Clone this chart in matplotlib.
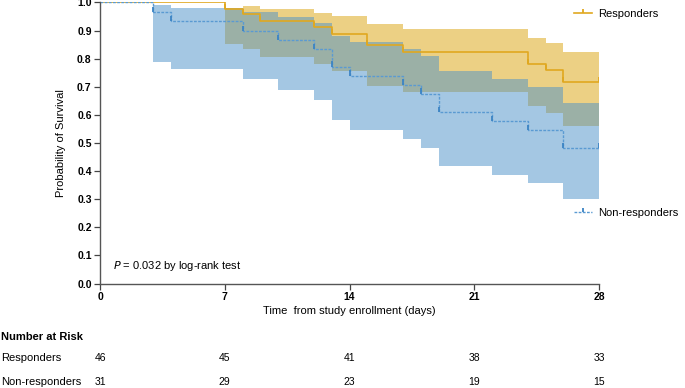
import matplotlib
matplotlib.use("Agg")
import matplotlib.pyplot as plt
from matplotlib.lines import Line2D
from matplotlib.transforms import blended_transform_factory

plt.rcParams['font.family'] = ['Liberation Sans', 'DejaVu Sans']

# Kaplan-Meier estimates
resp_t = [0, 7, 8, 9, 12, 13, 15, 17, 24, 25, 26, 28]
resp_s = [1.0, 0.977, 0.958, 0.934, 0.911, 0.889, 0.847, 0.824, 0.782, 0.760, 0.718, 0.718]
resp_lo = [1.0, 0.852, 0.833, 0.807, 0.781, 0.756, 0.704, 0.680, 0.632, 0.608, 0.560, 0.560]
resp_hi = [1.0, 0.979, 0.9875, 0.976, 0.962, 0.952, 0.922, 0.906, 0.873, 0.857, 0.823, 0.823]

non_t = [0, 3, 4, 8, 10, 12, 13, 14, 17, 18, 19, 22, 24, 26, 28]
non_s = [1.0, 0.966, 0.933, 0.900, 0.868, 0.836, 0.772, 0.740, 0.708, 0.676, 0.609, 0.578, 0.546, 0.483, 0.483]
non_lo = [1.0, 0.789, 0.762, 0.727, 0.689, 0.653, 0.582, 0.547, 0.513, 0.481, 0.418, 0.386, 0.359, 0.300, 0.300]
non_hi = [1.0, 0.991, 0.979, 0.965, 0.947, 0.926, 0.882, 0.860, 0.833, 0.810, 0.756, 0.728, 0.700, 0.643, 0.643]

# number at risk table
risk_days = [0, 7, 14, 21, 28]
risk_resp = [46, 45, 41, 38, 33]
risk_non = [31, 29, 23, 19, 15]

gold = '#DBA30B'
gold_line = '#E0A820'
blue = '#4B91C9'
blue_line = '#5A9AD2'
blue_tick = '#3C84C4'

fig = plt.figure(figsize=(6.85, 3.88), dpi=100)
ax = fig.add_axes([0.146, 0.2693, 0.7285, 0.7243])

# confidence bands
ax.fill_between(resp_t, resp_lo, resp_hi, step='post', color=gold, alpha=0.5, lw=0)
ax.fill_between(non_t, non_lo, non_hi, step='post', color=blue, alpha=0.5, lw=0)

# survival curves
ax.step(resp_t, resp_s, where='post', color=gold_line, lw=1.2)
ax.step(non_t, non_s, where='post', color=blue_line, lw=1.0, ls=(0, (2, 1)))

# censor ticks
ax.vlines(resp_t[1:], resp_s[1:], [s + 0.018 for s in resp_s[1:]], color=gold_line, lw=1.3)
ax.vlines(non_t[1:], non_s[1:], [s + 0.018 for s in non_s[1:]], color=blue_tick, lw=1.3)

ax.set_xlim(0, 28)
ax.set_ylim(0, 1.0)
ax.set_xticks(risk_days)
ax.set_yticks([i / 10 for i in range(11)])
ax.set_yticklabels([f'{i / 10:.1f}' for i in range(11)])
for lab in ax.get_xticklabels() + ax.get_yticklabels():
    lab.set_fontweight('bold')
ax.tick_params(labelsize=7.5, length=4, width=0.9, color='#444444', pad=2)
for side in ['top', 'right']:
    ax.spines[side].set_visible(False)
for side in ['left', 'bottom']:
    ax.spines[side].set_color('#555555')
    ax.spines[side].set_linewidth(1.0)

ax.set_xlabel('Time  from study enrollment (days)', fontsize=8, labelpad=3)
ax.set_ylabel('Probability of Survival', fontsize=8, labelpad=8)

ax.text(0.026, 0.062, r'$\it{P}$ = 0.032 by log-rank test', transform=ax.transAxes,
        fontsize=8, va='center', ha='left')

# legends placed separately as in the figure, tick pointing up from the line
up_tick = [(0, 0), (0, 1)]
h_resp = Line2D([], [], color=gold_line, lw=1.2, marker=up_tick, markersize=6, markeredgewidth=1.3)
h_non = Line2D([], [], color=blue_line, lw=1.0, ls=(0, (2, 1)), marker=up_tick,
               markersize=6, markeredgewidth=1.3, markeredgecolor=blue_tick)
leg_kw = dict(loc='center left', frameon=False, fontsize=8, handlelength=1.6,
              handletextpad=0.6, borderpad=0, borderaxespad=0, numpoints=1)
fig.legend([h_resp], ['Responders'], bbox_to_anchor=(0.838, 0.9647), **leg_kw)
fig.legend([h_non], ['Non-responders'], bbox_to_anchor=(0.838, 0.4503), **leg_kw)

# number at risk
trans = blended_transform_factory(ax.transData, fig.transFigure)
fig.text(0.002, 0.1322, 'Number at Risk', fontsize=8, fontweight='bold', va='center')
fig.text(0.002, 0.0773, 'Responders', fontsize=8, va='center')
fig.text(0.002, 0.0162, 'Non-responders', fontsize=8, va='center')
for d, r, n in zip(risk_days, risk_resp, risk_non):
    ax.text(d, 0.0773, str(r), transform=trans, fontsize=7.5, ha='center', va='center')
    ax.text(d, 0.0162, str(n), transform=trans, fontsize=7.5, ha='center', va='center')

fig.savefig('out.png', dpi=100)
